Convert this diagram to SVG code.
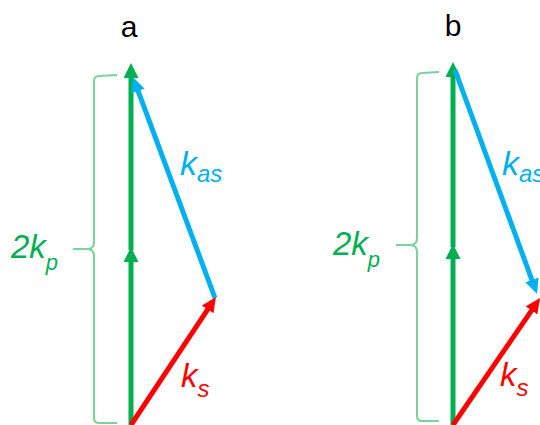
<svg xmlns="http://www.w3.org/2000/svg" width="540" height="425" viewBox="0 0 540 425">
<style>
.g{stroke:#00b050;stroke-width:5;fill:none}
.bl{stroke:#00b0f0;stroke-width:5;fill:none}
.r{stroke:#ff0000;stroke-width:5;fill:none}
.br{stroke:#78d49a;stroke-width:2;fill:none}
.lbl{font-family:"Liberation Sans",Arial,sans-serif;fill:#000}
.it{font-family:"Liberation Sans",Arial,sans-serif;font-style:italic}
</style>
<defs>
<marker id="ag" markerUnits="userSpaceOnUse" markerWidth="16" markerHeight="16" refX="5" refY="7.5" orient="auto"><path d="M0,0 L15,7.5 L0,15 z" fill="#00b050"/></marker>
<marker id="ab" markerUnits="userSpaceOnUse" markerWidth="16" markerHeight="16" refX="5" refY="7" orient="auto"><path d="M0,0 L15,7 L0,14 z" fill="#00b0f0"/></marker>
<marker id="ar" markerUnits="userSpaceOnUse" markerWidth="16" markerHeight="16" refX="5" refY="7" orient="auto"><path d="M0,0 L15,7 L0,14 z" fill="#ff0000"/></marker>
</defs>

<g id="panel-a">
  <text class="lbl" x="129" y="37" font-size="30" text-anchor="middle">a</text>
  <g id="brace-a">
    <path class="br" d="M117,75 L99,76 Q94,76 94,81 L94,242 Q94,249 87,249 L73,249 M87,249 Q94,249 94,256 L94,418 Q94,423 99,423 L117,423"/>
    <text class="it" fill="#00b050" x="11" y="258" font-size="33">2k<tspan font-size="22" dy="12">p</tspan></text>
  </g>
  <text class="it" fill="#00b0f0" x="180" y="175" font-size="34">k<tspan font-size="24" dy="7">as</tspan></text>
  <text class="it" fill="#ff0000" x="181" y="387" font-size="33">k<tspan font-size="24" dy="10">s</tspan></text>
</g>

<g id="panel-b">
  <text class="lbl" x="453" y="36" font-size="30" text-anchor="middle">b</text>
  <g id="brace-b">
    <path class="br" d="M439,72 L422,73 Q417,73 417,78 L417,238 Q417,245 410,245 L396,245 M410,245 Q417,245 417,252 L417,416 Q417,421 422,421 L439,421"/>
    <text class="it" fill="#00b050" x="333" y="255" font-size="33">2k<tspan font-size="22" dy="12">p</tspan></text>
  </g>
  <text class="it" fill="#00b0f0" x="502" y="175" font-size="34">k<tspan font-size="24" dy="7">as</tspan></text>
  <text class="it" fill="#ff0000" x="500" y="386" font-size="33">k<tspan font-size="24" dy="10">s</tspan></text>
</g>

<g id="connectors">
  <line class="g" x1="131" y1="425" x2="131" y2="257" marker-end="url(#ag)"/>
  <line class="g" x1="131" y1="250" x2="131" y2="73" marker-end="url(#ag)"/>
  <line class="bl" x1="215" y1="298" x2="136.4" y2="86.4" marker-end="url(#ab)"/>
  <line class="r" x1="131" y1="425" x2="210.4" y2="305.3" marker-end="url(#ar)"/>

  <line class="g" x1="453" y1="425" x2="453" y2="254" marker-end="url(#ag)"/>
  <line class="g" x1="453" y1="247" x2="453" y2="72" marker-end="url(#ag)"/>
  <line class="bl" x1="455" y1="70" x2="533.6" y2="284.6" marker-end="url(#ab)"/>
  <line class="r" x1="453" y1="425" x2="534.4" y2="306.3" marker-end="url(#ar)"/>
</g>
</svg>
